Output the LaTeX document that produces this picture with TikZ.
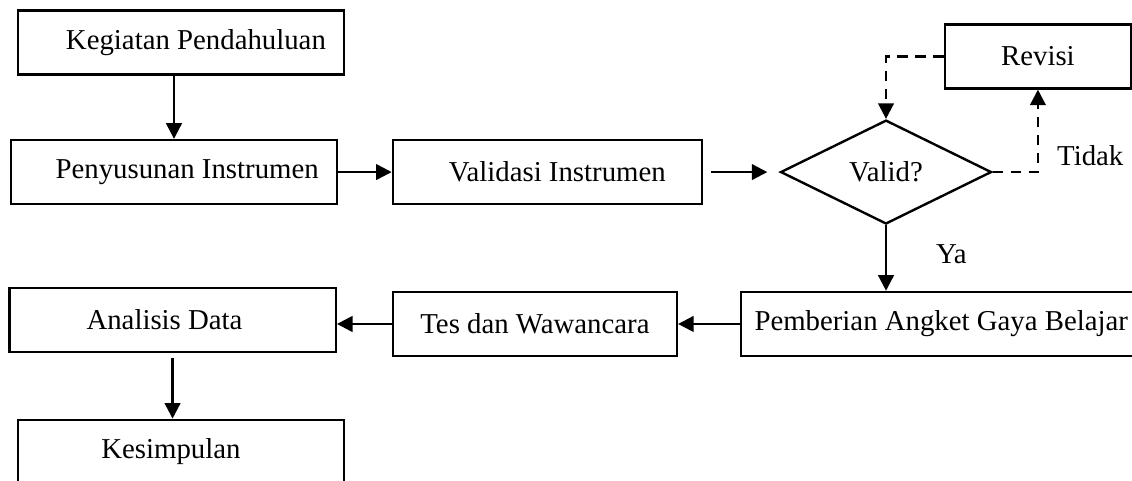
\documentclass[tikz,border=0pt]{standalone}
\usepackage{fontspec}
\setmainfont{Liberation Serif}
\usetikzlibrary{arrows.meta, positioning, shapes.geometric}

\begin{document}
\begin{tikzpicture}[>={Triangle[length=6.5pt,width=6.5pt]},on grid,line width=1pt,
    every node/.style={font=\fontsize{12}{14}\selectfont}]
  \tikzstyle{boxB}=[rectangle,line width=1pt,draw=black,minimum width=136pt,minimum height=26.7pt]
  \tikzstyle{askB}=[diamond,line width=1pt,draw=black,aspect=2,inner sep=0pt,minimum width=87.9pt,minimum height=43.3pt]
  \tikzstyle{dashB}=[dash pattern=on 4.5pt off 3pt]
  \useasboundingbox (0,0) rectangle (471.7pt,-200.4pt);
  % Steps
  \node[boxB] (keg) at (75.4pt,-17.7pt) {\hspace*{12.5pt}Kegiatan Pendahuluan};
  \node[boxB] (pen) [below=54pt of keg, xshift=-2.9pt] {\hspace*{11pt}Penyusunan Instrumen};
  \node[boxB, minimum width=128.8pt] (val) [right=155.6pt of pen] {\hspace*{8.3pt}Validasi Instrumen};
  \node[askB] (dia) [right=141.1pt of val] {Valid?};
  \node[boxB, minimum width=77.5pt] (rev) [above right=48.2pt and 63.3pt of dia] {Revisi};
  \node[boxB, minimum width=166.7pt] (pem) [below=63.3pt of dia, xshift=23pt] {Pemberian Angket Gaya Belajar};
  \node[boxB, minimum width=118.3pt] (tes) [left=169.3pt of pem] {Tes dan Wawancara};
  \node[boxB] (ana) [left=151pt of tes, yshift=1.7pt] {Analisis Data\hspace*{6.7pt}};
  \node[boxB] (kes) [below=55pt of ana, xshift=3.5pt] {Kesimpulan\hspace*{8.3pt}};
  % Arrows
  \draw[->] (pen.north |- keg.south) -- (pen.north);
  \draw[->] (pen.east |- val.west) -- (val.west);
  \draw[->, shorten <=3.3pt, shorten >=5pt] (val.east) -- (dia.west);
  \draw[->, dashB] (dia.east) -| node[pos=0.6, anchor=west, xshift=4.2pt] {Tidak} (rev.south);
  \draw[->, dashB] (rev.west) -| (dia.north);
  \draw[->] (dia.south) -- node[pos=0.44, anchor=west, xshift=17pt] {Ya} (dia.south |- pem.north);
  \draw[->] (pem.west) -- (tes.east);
  \draw[->] (tes.west) -- (tes.west -| ana.east);
  \draw[->, shorten <=2pt] (ana.south) -- (ana.south |- kes.north);

\end{tikzpicture}
\end{document}
